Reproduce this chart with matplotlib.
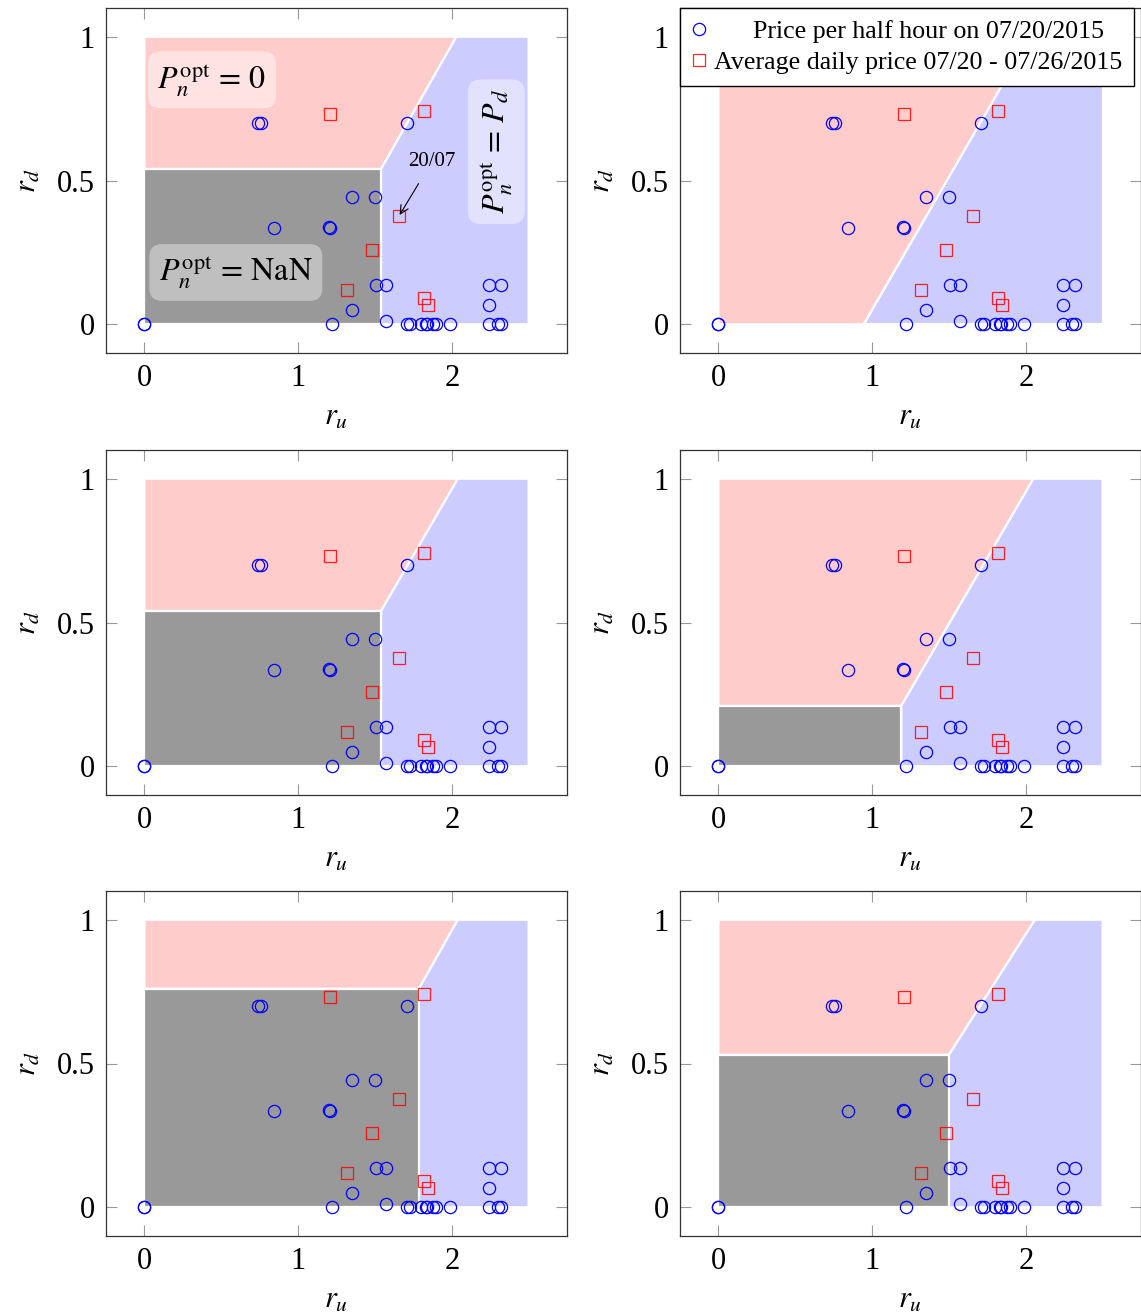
import matplotlib
matplotlib.use("Agg")
import matplotlib.pyplot as plt
from matplotlib.patches import Polygon, Rectangle

plt.rcParams['font.family'] = ['Liberation Serif', 'DejaVu Serif']
plt.rcParams['mathtext.fontset'] = 'stix'

# ---- data ----
half_hour_ru = [0, 0, 0.74, 0.76, 1.71, 1.35, 1.50, 0.846, 1.20, 1.21, 1.505, 1.574,
                1.35, 1.22, 1.574, 1.71, 1.73, 1.80, 1.83, 1.84, 1.88, 1.90, 1.99,
                2.24, 2.32, 2.24, 2.24, 2.30, 2.32]
half_hour_rd = [0, 0, 0.70, 0.70, 0.70, 0.443, 0.443, 0.336, 0.34, 0.335, 0.135, 0.135,
                0.049, 0, 0.013, 0, 0, 0, 0, 0, 0, 0, 0,
                0.135, 0.135, 0.066, 0, 0, 0]
daily_ru = [1.21, 1.82, 1.656, 1.48, 1.32, 1.82, 1.846]
daily_rd = [0.731, 0.743, 0.376, 0.26, 0.119, 0.091, 0.068]

# region boundaries per panel (gray NaN corner, boundary top point)
gray_ru = [1.54, 0.945, 1.54, 1.19, 1.786, 1.50]
gray_rd = [0.54, 0.0, 0.54, 0.21, 0.76, 0.53]
top_ru = [2.03, 2.03, 2.04, 2.05, 2.04, 2.06]
ru_max = 2.5
rd_max = 1.0

x_ticks = [0, 1, 2]
y_ticks = [0, 0.5, 1]
y_ticklabels = ['0', '0.5', '1']

legend_labels = ['Price per half hour on 07/20/2015',
                 'Average daily price 07/20 - 07/26/2015']

PINK = '#ffcccc'
BLUE = '#ccccff'
GRAY = '#999999'

W, H = 1141, 1314
fig = plt.figure(figsize=(W / 100, H / 100), dpi=100)

cols = [106, 680]
rows = [8, 450, 891]
aw, ah = 461, 345

axes = []
for r in range(3):
    for c in range(2):
        left = cols[c] / W
        bottom = 1 - (rows[r] + ah) / H
        ax = fig.add_axes([left, bottom, aw / W, ah / H])
        axes.append(ax)

for i, ax in enumerate(axes):
    gx, gy, tx = gray_ru[i], gray_rd[i], top_ru[i]
    pink = Polygon([(0, gy), (gx, gy), (tx, rd_max), (0, rd_max)], closed=True,
                   facecolor=PINK, edgecolor='white', lw=1.6, zorder=1)
    blue = Polygon([(gx, 0), (ru_max, 0), (ru_max, rd_max), (tx, rd_max), (gx, gy)],
                   closed=True, facecolor=BLUE, edgecolor='white', lw=1.6, zorder=1)
    ax.add_patch(pink)
    ax.add_patch(blue)
    if gy > 0:
        ax.add_patch(Rectangle((0, 0), gx, gy, facecolor=GRAY, edgecolor='white',
                               lw=1.6, zorder=2))
    ax.plot(half_hour_ru, half_hour_rd, linestyle='none', marker='o', ms=8.8,
            mfc='none', mec='blue', mew=0.9, zorder=5, label=legend_labels[0])
    ax.plot(daily_ru, daily_rd, linestyle='none', marker='s', ms=8.8,
            mfc='none', mec='red', mew=0.9, alpha=0.85, zorder=5, label=legend_labels[1])

    ax.set_xlim(-0.25, 2.75)
    ax.set_ylim(-0.1, 1.1)
    ax.set_xticks(x_ticks)
    ax.set_yticks(y_ticks)
    ax.set_yticklabels(y_ticklabels)
    ax.tick_params(direction='in', length=8, width=0.8, color='#999999',
                   top=True, right=True, labelsize=22, pad=8)
    for sp in ax.spines.values():
        sp.set_color('#333333')
        sp.set_linewidth(0.9)
    ax.set_xlabel(r'$r_u$', fontsize=22, labelpad=7)
    ax.set_ylabel(r'$r_d$', fontsize=22, labelpad=10)

# annotations in first panel
ax0 = axes[0]
ax0.text(0.44, 0.85, r'$P_n^{\mathrm{opt}}\,=\,0$', fontsize=23, ha='center', va='center',
         zorder=6, bbox=dict(boxstyle='round,pad=0.3,rounding_size=0.4',
                             facecolor='white', alpha=0.45, edgecolor='none'))
ax0.text(0.595, 0.18, r'$P_n^{\mathrm{opt}}\,=\,\mathrm{NaN}$', fontsize=23, ha='center',
         va='center', zorder=6,
         bbox=dict(boxstyle='round,pad=0.3,rounding_size=0.4',
                   facecolor='white', alpha=0.38, edgecolor='none'))
ax0.text(2.29, 0.60, r'$P_n^{\mathrm{opt}}\,=\,P_d$', fontsize=23, ha='center', va='center',
         rotation=90, zorder=6,
         bbox=dict(boxstyle='round,pad=0.3,rounding_size=0.4',
                   facecolor='white', alpha=0.45, edgecolor='none'))
ax0.annotate('20/07', xy=(daily_ru[2], daily_rd[2]), xytext=(1.87, 0.565),
             fontsize=15, ha='center', va='center', zorder=7,
             arrowprops=dict(arrowstyle='->', color='black', lw=0.8,
                             shrinkA=8, shrinkB=1))

# legend in second panel
leg = axes[1].legend(loc='upper left', bbox_to_anchor=(0.0, 1.0), borderaxespad=0.0,
                     fontsize=18.7, frameon=True, fancybox=False, framealpha=1,
                     edgecolor='black', handlelength=0.6, handletextpad=0.25,
                     labelspacing=0.32, borderpad=0.45)
leg.get_frame().set_linewidth(1.0)
leg.set_zorder(10)
texts = leg.get_texts()
texts[0].set_text('      ' + legend_labels[0])

fig.savefig('out.png', dpi=100)
